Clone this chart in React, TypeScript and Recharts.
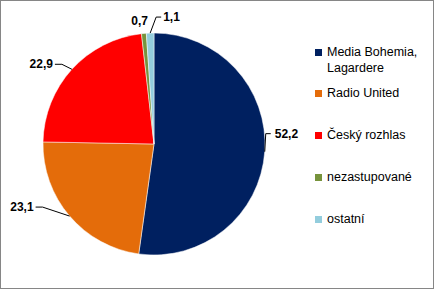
import React from "react";
import { PieChart, Pie, Cell, Legend } from "recharts";

const categories = [
  "Media Bohemia, Lagardere",
  "Radio United",
  "Český rozhlas",
  "nezastupované",
  "ostatní",
];
const shares = [52.2, 23.1, 22.9, 0.7, 1.1];
const colors = ["#002060", "#E46C0A", "#FF0000", "#77933C", "#93CDDD"];

const data = categories.map((name, i) => ({ name, value: shares[i] }));

// leader line shape per slice: elbow offset from the edge point, tail length
const labelStyle = [
  { elbow: [1, -18], tail: 5, gap: 4, anchor: "start", line: true },
  { elbow: [-27, -9], tail: -7, gap: -2, anchor: "end", line: true },
  { elbow: [-10, -5], tail: -7, gap: -2, anchor: "end", line: true },
  { elbow: [4, -12], tail: 0, gap: 0, anchor: "end", line: false },
  { elbow: [6, -16], tail: 5, gap: 2, anchor: "start", line: true },
];

const RADIAN = Math.PI / 180;

const renderLabel = (props: any) => {
  const { cx, cy, midAngle, outerRadius, index, value } = props;
  const s = labelStyle[index];
  const ex = cx + outerRadius * Math.cos(-midAngle * RADIAN);
  const ey = cy + outerRadius * Math.sin(-midAngle * RADIAN);
  const mx = ex + s.elbow[0];
  const my = ey + s.elbow[1];
  const tx = mx + s.tail;
  return (
    <g>
      {s.line && (
        <polyline
          points={`${ex},${ey} ${mx},${my} ${tx},${my}`}
          fill="none"
          stroke="#000"
          strokeWidth={1}
        />
      )}
      <text
        x={tx + s.gap}
        y={my}
        textAnchor={s.anchor as any}
        dominantBaseline="central"
        fontFamily="'Liberation Sans', Arial, sans-serif"
        fontSize={12}
        fontWeight="bold"
        fill="#000"
      >
        {Number(value).toFixed(1).replace(".", ",")}
      </text>
    </g>
  );
};

const renderLegend = () => (
  <div style={{ fontFamily: "'Liberation Sans', Arial, sans-serif", fontSize: 12.5, color: "#000" }}>
    {data.map((d, i) => (
      <div
        key={d.name}
        style={{
          display: "flex",
          alignItems: "flex-start",
          lineHeight: "16px",
          marginBottom: i === 0 ? 9 : 26,
        }}
      >
        <span
          style={{
            display: "inline-block",
            width: 7,
            height: 7,
            background: colors[i],
            marginTop: 5,
            marginRight: 5,
            flexShrink: 0,
          }}
        />
        <span style={{ width: 96 }}>{d.name}</span>
      </div>
    ))}
  </div>
);

export default function App() {
  return (
    <div
      style={{
        position: "absolute",
        left: 0,
        top: 0,
        width: 434,
        height: 289,
        boxSizing: "border-box",
        border: "1px solid #868686",
        background: "#fff",
      }}
    >
      <PieChart width={432} height={287} margin={{ top: 0, right: 0, bottom: 0, left: 0 }}>
        <Pie
          data={data}
          dataKey="value"
          nameKey="name"
          cx={153}
          cy={143}
          outerRadius={111}
          startAngle={90}
          endAngle={-270}
          stroke="#fff"
          strokeWidth={0.5}
          label={renderLabel}
          labelLine={false}
          isAnimationActive={false}
        >
          {data.map((d, i) => (
            <Cell key={d.name} fill={colors[i]} />
          ))}
        </Pie>
        <Legend
          layout="vertical"
          align="right"
          verticalAlign="top"
          content={renderLegend}
          wrapperStyle={{ position: "absolute", left: 314, top: 43, width: 115 }}
        />
      </PieChart>
    </div>
  );
}
